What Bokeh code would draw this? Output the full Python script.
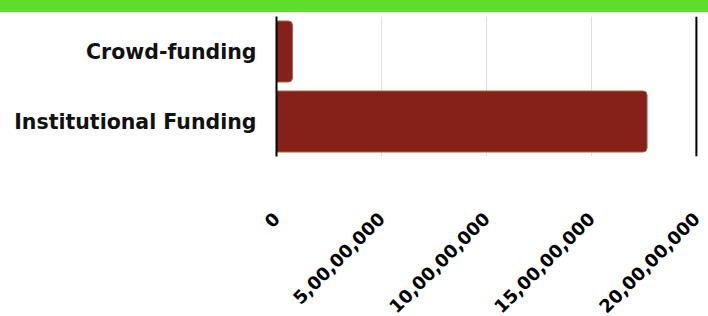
import math
from bokeh.plotting import figure
from bokeh.models import FactorRange, Range1d, FixedTicker, Span, GlobalInlineStyleSheet
from bokeh.embed import file_html
from bokeh.resources import INLINE

# ---- data ----
categories = ["Institutional Funding", "Crowd-funding"]
funding = [176_500_000, 7_600_000]
tick_values = [0, 50_000_000, 100_000_000, 150_000_000, 200_000_000]
tick_labels = ["0", "5,00,00,000", "10,00,00,000", "15,00,00,000", "20,00,00,000"]

BAR_COLOR = "#86211a"
FONT = "DejaVu Sans"

p = figure(
    y_range=FactorRange(factors=categories),
    x_range=Range1d(0, 201_000_000),
    frame_width=422, frame_height=140,
    min_border_left=276, min_border_right=10, min_border_top=16, min_border_bottom=0,
    output_backend="svg", toolbar_location=None,
)

p.hbar(y=categories, left=0, right=funding, height=61 / 70,
       fill_color=BAR_COLOR, line_color="#9b6a3c", line_width=1,
       border_radius=(0, 4, 4, 0))

# x axis (bottom): rotated Indian-format labels, no line/ticks
xa = p.xaxis[0]
xa.ticker = FixedTicker(ticks=tick_values)
xa.major_label_overrides = {v: s for v, s in zip(tick_values, tick_labels)}
xa.major_label_orientation = math.pi / 4
xa.axis_line_color = None
xa.major_tick_line_color = None
xa.minor_tick_line_color = None
xa.major_label_standoff = 53
xa.major_label_text_font = FONT
xa.major_label_text_font_style = "bold"
xa.major_label_text_font_size = "18px"
xa.major_label_text_color = "#000000"

# y axis (left)
ya = p.yaxis[0]
ya.axis_line_color = "#000000"
ya.axis_line_width = 2
ya.major_tick_line_color = None
ya.minor_tick_line_color = None
ya.major_label_standoff = 14
ya.major_label_text_font = FONT
ya.major_label_text_font_style = "bold"
ya.major_label_text_font_size = "20.5px"
ya.major_label_text_color = "#111111"

# right border line at the end of the value scale
p.add_layout(Span(location=tick_values[-1], dimension="height",
                  line_color="#000000", line_width=2))

p.ygrid.grid_line_color = None
p.xgrid.grid_line_color = "#e0e0e0"
p.xgrid.grid_line_width = 1
p.outline_line_color = None
p.background_fill_color = "white"
p.border_fill_color = "white"

css = ("html,body{overflow:hidden;}"
       "body::before{content:'';position:fixed;top:0;left:0;width:100%;height:12px;"
       "background:#5edd2c;z-index:10000;}")
p.stylesheets = [GlobalInlineStyleSheet(css=css)]

open("out.html", "w").write(file_html(p, INLINE))
